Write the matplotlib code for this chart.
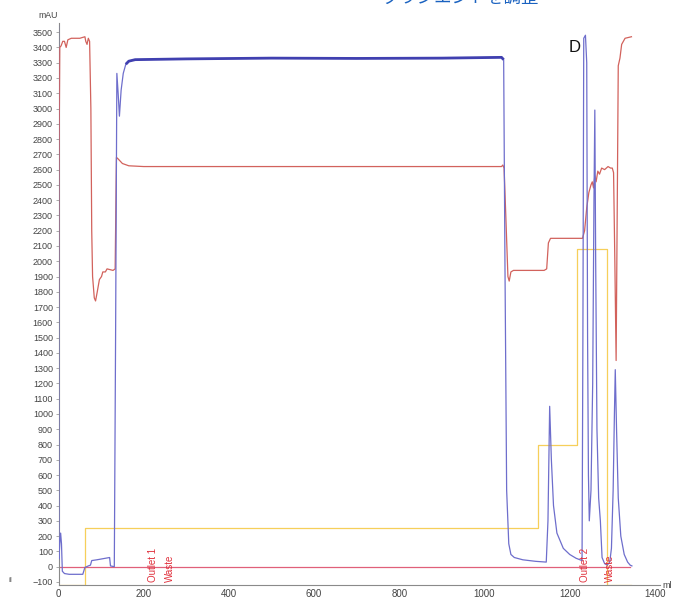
import numpy as np
import matplotlib
matplotlib.use("Agg")
import matplotlib.pyplot as plt

plt.rcParams["font.family"] = ["Liberation Sans", "DejaVu Sans"]

# UV trace (mAU) vs volume (ml)
uv_ml = [0, 1, 3, 5, 7, 9, 14, 25, 57, 62, 66, 70, 75, 78, 90, 100, 110, 120, 122, 131,
         134, 137, 140, 143, 147, 152, 158, 165, 180, 300, 500, 700, 900, 1040, 1045,
         1048, 1052, 1057, 1062, 1070, 1090, 1120, 1145, 1149, 1153, 1157, 1162, 1170,
         1185, 1200, 1215, 1229, 1231, 1233, 1237, 1240, 1242, 1244, 1246, 1250, 1254,
         1257, 1259, 1261, 1264, 1268, 1272, 1276, 1282, 1288, 1294, 1298, 1302, 1305,
         1307, 1310, 1314, 1320, 1328, 1336, 1342, 1346]
uv_mau = [3540, 50, 150, 220, 150, -30, -45, -50, -50, -5, 0, 5, 10, 40, 45, 50, 55, 60, 5, 0,
          1500, 3230, 3100, 2950, 3120, 3230, 3290, 3310, 3320, 3325, 3330, 3328, 3330, 3335, 3320,
          2000, 500, 150, 80, 60, 45, 35, 30, 300, 1050, 700, 400, 220,
          120, 80, 55, 40, 1500, 3460, 3480, 3300, 1500, 600, 300, 500, 1200,
          2400, 2990, 2000, 900, 450, 300, 60, 20, 10, 30, 120, 500, 1000,
          1290, 900, 450, 200, 80, 30, 10, 5]

# conductivity-type trace (red)
cond_ml = [0, 1, 3, 6, 10, 14, 18, 22, 30, 50, 62, 64, 67, 70, 73, 76, 78, 80, 84, 87, 91,
           96, 101, 104, 110, 114, 128, 133, 136, 140, 150, 165, 200, 1040, 1043, 1046, 1050,
           1055, 1058, 1062, 1068, 1140, 1146, 1150, 1155, 1230, 1235, 1240, 1245, 1250,
           1253, 1256, 1259, 1262, 1266, 1270, 1275, 1282, 1290, 1296, 1300, 1303, 1306,
           1309, 1312, 1314, 1318, 1322, 1330, 1345]
cond_val = [1710, 2500, 3400, 3410, 3440, 3440, 3400, 3450, 3460, 3460, 3470, 3440, 3420, 3460,
            3440, 3000, 2200, 1900, 1760, 1740, 1800, 1880, 1900, 1930, 1930, 1950, 1940, 1950,
            2680, 2670, 2640, 2625, 2620, 2620, 2630, 2610, 2300, 1900, 1870, 1930, 1940, 1940,
            1950, 2120, 2150, 2150, 2200, 2350, 2450, 2500, 2520, 2480, 2560, 2520, 2590, 2570,
            2610, 2600, 2620, 2610, 2610, 2580, 2000, 1350, 2500, 3280, 3330, 3420, 3460, 3470]

# gradient steps (yellow)
grad_ml = [0, 62, 62, 1126, 1126, 1217, 1217, 1287, 1287, 1345]
grad_val = [-120, -120, 250, 250, 800, 800, 2080, 2080, -120, -120]

# fraction marks
frac_ml = [223, 262, 1236, 1295]
frac_text = ["Outlet 1", "Waste", "Outlet 2", "Waste"]

x_ticks = [0, 200, 400, 600, 800, 1000, 1200, 1400]
y_ticks = list(range(-100, 3600, 100))

fig = plt.figure(figsize=(6.75, 6.0), dpi=100)
ax = fig.add_axes([58.5 / 675, 15 / 600, (660 - 58.5) / 675, (585 - 23) / 600])
ax.set_xlim(0, 1412)
ax.set_ylim(-120, 3560)

ax.plot(grad_ml, grad_val, color="#f6cf5a", lw=0.9, zorder=2)
ax.plot([0, 1342], [0, 0], color="#e0607a", lw=0.9, zorder=2)
ax.plot(cond_ml, cond_val, color="#d2625c", lw=0.9, zorder=3)
ax.plot(uv_ml, uv_mau, color="#6e6ecc", lw=0.9, zorder=4)
# noisy plateau drawn as a thicker band
i0, i1 = uv_ml.index(158), uv_ml.index(1045)
ax.plot(uv_ml[i0:i1 + 1], uv_mau[i0:i1 + 1], color="#4040b0", lw=2.0,
        solid_capstyle="butt", zorder=5)

for xm, t in zip(frac_ml, frac_text):
    ax.text(xm, -100, t, rotation=90, ha="center", va="bottom",
            color="#e0303c", fontsize=7, zorder=6)

ax.text(1212, 3400, "D", fontsize=12, ha="center", va="center", color="#111111")

for s in ["top", "right"]:
    ax.spines[s].set_visible(False)
for s in ["left", "bottom"]:
    ax.spines[s].set_color("#8a8a8a")
    ax.spines[s].set_linewidth(0.8)

ax.set_xticks(x_ticks)
ax.set_yticks(y_ticks)
ax.tick_params(axis="y", labelsize=6.5, length=2, width=0.5, colors="#8a8a8a",
               labelcolor="#444444", pad=2)
ax.tick_params(axis="x", labelsize=7, length=0, colors="#8a8a8a",
               labelcolor="#444444", pad=3)

fig.text(48 / 675, 1 - 15 / 600, "mAU", fontsize=6.3, color="#444444",
         ha="center", va="center")
fig.text(662 / 675, 1 - 585 / 600, "ml", fontsize=6.5, color="#444444",
         ha="left", va="center")
fig.text(10 / 675, 1 - 580 / 600, "il", fontsize=6, color="#666666",
         ha="center", va="center")
fig.text(383 / 675, 1 - 3 / 600, "グラジエントを調整", fontsize=12.5, color="#1a62c0",
         family=["Noto Sans CJK JP", "DejaVu Sans"], ha="left", va="baseline")

fig.savefig("out.png", dpi=100)
